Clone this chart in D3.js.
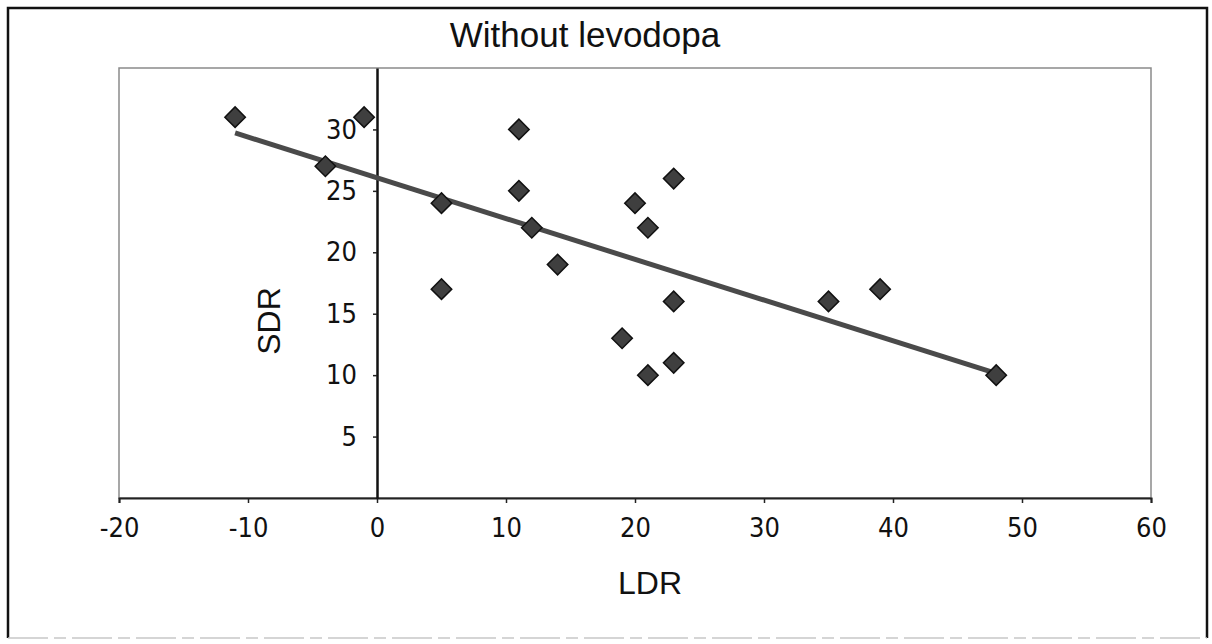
<!DOCTYPE html>
<html>
<head>
<meta charset="utf-8">
<script src="https://cdn.jsdelivr.net/npm/d3@7"></script>
<style>
  body { margin: 0; background: #fff; }
  svg { display: block; }
</style>
</head>
<body>
<div id="chart"></div>
<script>
// data
var ldr = [-11, -4, -1, 5, 5, 11, 11, 12, 14, 19, 20, 21, 21, 23, 23, 23, 35, 39, 48];
var sdr = [31, 27, 31, 24, 17, 30, 25, 22, 19, 13, 24, 22, 10, 26, 16, 11, 16, 17, 10];
var xTicks = [-20, -10, 0, 10, 20, 30, 40, 50, 60];
var yTicks = [5, 10, 15, 20, 25, 30];

var width = 1212, height = 644;
var plot = {left: 119, right: 1151, top: 68, bottom: 498};

var svg = d3.select("#chart").append("svg")
            .attr("width", width)
            .attr("height", height);

var x = d3.scaleLinear().domain([-20, 60]).range([plot.left, plot.right]);
var y = d3.scaleLinear().domain([0, 35]).range([plot.bottom, plot.top]);

// outer frame: dark on three sides, faint at the bottom
svg.append("path")
   .attr("d", "M8,638 L8,8 L1207,8 L1207,638")
   .attr("fill", "none")
   .attr("stroke", "#111")
   .attr("stroke-width", 2.5);
svg.append("line")
   .attr("x1", 8).attr("y1", 638).attr("x2", 1207).attr("y2", 638)
   .attr("stroke", "#c8c8c8")
   .attr("stroke-width", 1.5)
   .attr("stroke-dasharray", "40,6,12,6");

// plot area border
svg.append("rect")
   .attr("x", plot.left).attr("y", plot.top)
   .attr("width", plot.right - plot.left).attr("height", plot.bottom - plot.top)
   .attr("fill", "none")
   .attr("stroke", "#8a8a8a")
   .attr("stroke-width", 1.5);

// x axis along y = 0
var xAxis = svg.append("g")
   .attr("transform", "translate(0," + y(0) + ")")
   .call(d3.axisBottom(x).tickValues(xTicks).tickSize(5).tickPadding(15).tickFormat(function (d) { return String(d); }));
xAxis.select(".domain").attr("stroke", "#222").attr("stroke-width", 2);
xAxis.selectAll(".tick line").attr("stroke", "#222").attr("stroke-width", 1.5);
xAxis.selectAll(".tick text")
     .attr("fill", "#111")
     .style("font-family", "'DejaVu Sans Condensed', 'DejaVu Sans', sans-serif")
     .style("font-size", "27px");

// y axis along x = 0
var yAxis = svg.append("g")
   .attr("transform", "translate(" + x(0) + ",0)")
   .call(d3.axisLeft(y).tickValues(yTicks).tickSize(4).tickPadding(16).tickSizeOuter(0));
yAxis.select(".domain").attr("stroke", "#111").attr("stroke-width", 2.5);
yAxis.selectAll(".tick line").attr("stroke", "#222").attr("stroke-width", 1.5);
yAxis.selectAll(".tick text")
     .attr("fill", "#111")
     .style("font-family", "'DejaVu Sans Condensed', 'DejaVu Sans', sans-serif")
     .style("font-size", "27px");

// least squares trend line
var mx = d3.mean(ldr), my = d3.mean(sdr);
var sxy = d3.sum(ldr, function (d, i) { return (d - mx) * (sdr[i] - my); });
var sxx = d3.sum(ldr, function (d) { return (d - mx) * (d - mx); });
var slope = sxy / sxx, icpt = my - slope * mx;
var x0 = d3.min(ldr), x1 = d3.max(ldr);

svg.append("line")
   .attr("x1", x(x0)).attr("y1", y(icpt + slope * x0))
   .attr("x2", x(x1)).attr("y2", y(icpt + slope * x1))
   .attr("stroke", "#4a4a4a")
   .attr("stroke-width", 5);

// diamonds
var diamond = d3.symbol().type(d3.symbolSquare).size(210);
svg.append("g").selectAll("path")
   .data(ldr)
   .join("path")
   .attr("d", diamond)
   .attr("transform", function (d, i) { return "translate(" + x(d) + "," + y(sdr[i]) + ") rotate(45)"; })
   .attr("fill", "#3f3f3f")
   .attr("stroke", "#111")
   .attr("stroke-width", 1.5);

// titles
svg.append("text")
   .attr("x", 585).attr("y", 47)
   .attr("text-anchor", "middle")
   .style("font-family", "'Liberation Sans', Arial, sans-serif")
   .style("font-size", "35px")
   .attr("fill", "#111")
   .text("Without levodopa");

svg.append("text")
   .attr("x", 650).attr("y", 594)
   .attr("text-anchor", "middle")
   .style("font-family", "'Liberation Sans', Arial, sans-serif")
   .style("font-size", "32px")
   .attr("fill", "#111")
   .text("LDR");

svg.append("text")
   .attr("transform", "translate(280,321) rotate(-90)")
   .attr("text-anchor", "middle")
   .style("font-family", "'Liberation Sans', Arial, sans-serif")
   .style("font-size", "32px")
   .attr("fill", "#111")
   .text("SDR");
</script>
</body>
</html>
